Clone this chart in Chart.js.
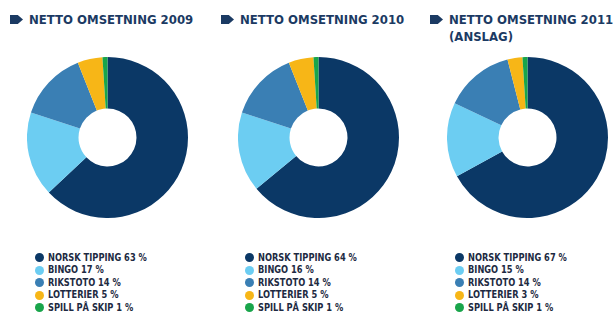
<!DOCTYPE html>
<html>
<head>
<meta charset="utf-8">
<script src="https://cdn.jsdelivr.net/npm/chart.js@4"></script>
<style>
  html, body { margin: 0; padding: 0; background: #ffffff; }
  #wrap { position: relative; width: 614px; height: 318px; overflow: hidden; background: #fff; }
  .title { position: absolute; font-family: "DejaVu Sans Condensed", "Liberation Sans Narrow", sans-serif; font-weight: bold; font-size: 13px; line-height: 13px; color: #1b3a63; white-space: nowrap; }
  .arrow { position: absolute; width: 13px; height: 9px; background: #1b3a63; clip-path: polygon(0 0, 60% 0, 100% 50%, 60% 100%, 0 100%); }
  canvas { position: absolute; }
  .legend { position: absolute; font-family: "DejaVu Sans Condensed", "Liberation Sans Narrow", sans-serif; font-weight: bold; font-size: 10px; color: #1d2a42; }
  .legend .row { position: relative; height: 12.5px; line-height: 12.5px; white-space: nowrap; }
  .legend .dot { position: absolute; left: -0.5px; top: 1.75px; width: 9px; height: 9px; border-radius: 50%; }
  .legend .txt { position: absolute; left: 13px; top: 0; transform: scaleX(0.92); transform-origin: 0 50%; }
</style>
</head>
<body>
<div id="wrap"></div>
<script>
const categories = ['NORSK TIPPING', 'BINGO', 'RIKSTOTO', 'LOTTERIER', 'SPILL PÅ SKIP'];
const titles = ['NETTO OMSETNING 2009', 'NETTO OMSETNING 2010', 'NETTO OMSETNING 2011\n(ANSLAG)'];
const values2009 = [63, 17, 14, 5, 1];
const values2010 = [64, 16, 14, 5, 1];
const values2011 = [67, 15, 14, 3, 1];
const colors = ['#0b3866', '#6ccdf2', '#3a7fb4', '#f7b617', '#19a54b'];

const seriesList = [values2009, values2010, values2011];
const layout = [
  { arrowX: 10, titleX: 29, cx: 107.5, legX: 35 },
  { arrowX: 221, titleX: 240, cx: 318, legX: 245 },
  { arrowX: 430, titleX: 449, cx: 527.5, legX: 455 }
];
const wrap = document.getElementById('wrap');
const R = 80.5;
const cy = 137.5;

seriesList.forEach((vals, i) => {
  const L = layout[i];
  const ar = document.createElement('div');
  ar.className = 'arrow';
  ar.style.left = L.arrowX + 'px';
  ar.style.top = '15px';
  wrap.appendChild(ar);

  const lines = titles[i].split('\n');
  lines.forEach((ln, k) => {
    const t = document.createElement('div');
    t.className = 'title';
    t.style.left = L.titleX + 'px';
    t.style.top = (13 + k * 17) + 'px';
    t.textContent = ln;
    wrap.appendChild(t);
  });

  const cv = document.createElement('canvas');
  const size = Math.round(R * 2);
  cv.width = size; cv.height = size;
  cv.style.width = size + 'px'; cv.style.height = size + 'px';
  cv.style.left = (L.cx - size / 2) + 'px';
  cv.style.top = (cy - size / 2) + 'px';
  wrap.appendChild(cv);
  new Chart(cv, {
    type: 'doughnut',
    data: {
      labels: categories,
      datasets: [{ data: vals, backgroundColor: colors, borderWidth: 0 }]
    },
    options: {
      responsive: false,
      animation: false,
      cutout: '36%',
      layout: { padding: 0 },
      plugins: { legend: { display: false }, tooltip: { enabled: false }, title: { display: false } }
    }
  });

  const leg = document.createElement('div');
  leg.className = 'legend';
  leg.style.left = L.legX + 'px';
  leg.style.top = '251.5px';
  categories.forEach((c, j) => {
    const row = document.createElement('div');
    row.className = 'row';
    const d = document.createElement('span');
    d.className = 'dot';
    d.style.background = colors[j];
    const tx = document.createElement('span');
    tx.className = 'txt';
    tx.textContent = c + ' ' + vals[j] + ' %';
    row.appendChild(d); row.appendChild(tx);
    leg.appendChild(row);
  });
  wrap.appendChild(leg);
});
</script>
</body>
</html>
